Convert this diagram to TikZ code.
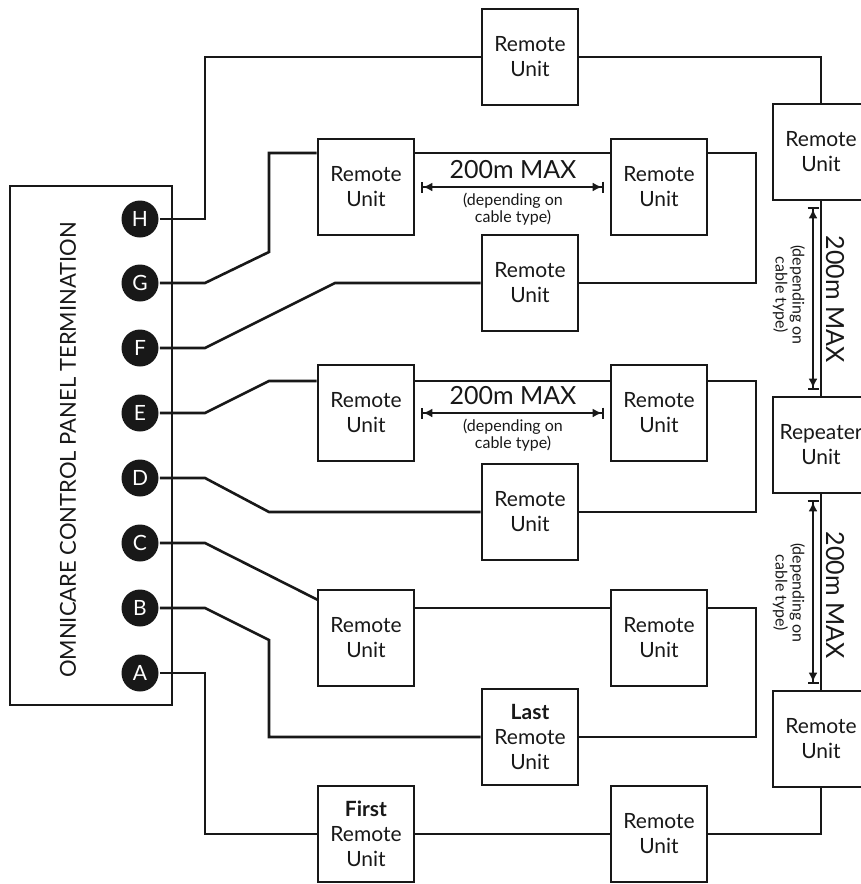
\documentclass[tikz,border=0pt]{standalone}
\usepackage{fontspec}
\setmainfont{Lato}
\usetikzlibrary{arrows.meta}
\definecolor{ink@OC}{RGB}{24,24,24}

\begin{document}
\begin{tikzpicture}[x=1pt, y=-1pt, line width=2.6pt, color=ink@OC]
  \tikzstyle{unit}=[draw, minimum width=96pt, minimum height=96pt, inner sep=0pt,
                    align=center, font=\fontsize{21}{25}\selectfont]
  \tikzstyle{port}=[circle, fill=ink@OC, minimum size=37pt, inner sep=0pt, text=white,
                    font=\fontsize{21}{21}\selectfont]
  \tikzstyle{panel}=[draw, minimum width=162pt, minimum height=519pt, inner sep=0pt]
  \tikzstyle{dim}=[{Bar[width=11pt]Latex[length=9pt,width=9pt]}-{Latex[length=9pt,width=9pt]Bar[width=11pt]},
                   line width=2pt, shorten >=6pt, shorten <=6pt]
  \tikzstyle{maxlbl}=[font=\fontsize{25}{25}\selectfont, inner sep=0pt]
  \tikzstyle{cablelbl}=[font=\fontsize{16}{17}\selectfont, align=center, inner sep=0pt]

  % constants
  \def \BusX {205}
  \def \JogX {269}
  \def \RetX {756}

  \useasboundingbox (0,0) rectangle (861,884);

  \coordinate (bus) at (\BusX,0);
  \coordinate (jog) at (\JogX,0);
  \coordinate (ret) at (\RetX,0);

  % control panel
  \node[panel] (panel) at (91,445.5) {};
  \node[font=\fontsize{22}{22}\selectfont, rotate=90] (ptitle) at (68,450)
    {OMNICARE CONTROL PANEL TERMINATION};

  % Draw the terminals
  \foreach \name/\y in {A/673, B/608, C/543, D/478, E/413, F/348, G/283, H/219}
    \node[port] (c\name) at (140,\y) {\name};

  % Draw the units
  \foreach \pos/\name/\txt in
    {
      {(530,57)/T/{Remote\\Unit}},
      {(366,187)/G1/{Remote\\Unit}},
      {(659,187)/G2/{Remote\\Unit}},
      {(530,283)/GF/{Remote\\Unit}},
      {(366,413)/E1/{Remote\\Unit}},
      {(659,413)/E2/{Remote\\Unit}},
      {(530,512)/DE/{Remote\\Unit}},
      {(366,638)/C1/{Remote\\Unit}},
      {(659,638)/C2/{Remote\\Unit}},
      {(530,737)/L/{\textbf{Last}\\Remote\\Unit}},
      {(366,834)/F1/{\textbf{First}\\Remote\\Unit}},
      {(659,834)/A2/{Remote\\Unit}},
      {(821,152)/R1/{Remote\\Unit}},
      {(821,445)/R2/{Repeater\\Unit}},
      {(821,739)/R3/{Remote\\Unit}}%
    }
    \node[unit] (\name) at \pos {\txt};

  % H loop
  \draw (cH) -- (cH -| bus) |- (T);
  \draw (T) -| (R1);

  % G and F loop
  \draw (cG) -- (cG -| bus) -- ++(64,-31) |- (G1.west |- 0,153) coordinate (g);
  \draw (G1.east |- g) -- (G2.west |- g);
  \draw (G2.east |- g) -| (ret |- GF) -- (GF);
  \draw (cF) -- (cF -| bus) -- ++(130,-65) -- (GF);

  % E and D loop
  \draw (cE) -- (cE -| bus) -- ++(64,-32) coordinate (e) -- (E1.west |- e);
  \draw (E1.east |- e) -- (E2.west |- e);
  \draw (E2.east |- e) -| (ret |- DE) -- (DE);
  \draw (cD) -- (cD -| bus) -- ++(64,34) -- (DE);

  % C and B loop
  \draw (cC) -- (cC -| bus) -- ++(113,57);
  \draw (C1.east |- cB) -- (C2.west |- cB);
  \draw (C2.east |- cB) -| (ret |- L) -- (L);
  \draw (cB) -- (cB -| bus) -- ++(64,32) -- (jog |- L) -- (L);

  % A loop through the repeater
  \draw (cA) -- (cA -| bus) |- (F1);
  \draw (F1) -- (A2);
  \draw (A2) -| (R3);
  \foreach \source/ \dest in {R1/R2, R2/R3}
    \draw (\source) -- (\dest);

  % cable lengths
  \foreach \left/ \right/ \y in {G1/G2/187, E1/E2/413}
  {
    \draw[dim] (\left) -- (\right);
    \node[maxlbl] at (513,\y-17) {200m MAX};
    \node[cablelbl] at (513,\y+22) {(depending on\\cable type)};
  }
  \draw[dim] ([xshift=-8pt]R1.south) -- ([xshift=-8pt]R2.north);
  \draw[dim] ([xshift=-8pt]R2.south) -- ([xshift=-8pt]R3.north);
  \node[maxlbl, rotate=-90] (vmax1) at (835,299) {200m MAX};
  \node[cablelbl, rotate=-90] (vcab1) at (789,295) {(depending on\\cable type)};
  \node[maxlbl, rotate=-90] (vmax2) at (835,595) {200m MAX};
  \node[cablelbl, rotate=-90] (vcab2) at (789,593) {(depending on\\cable type)};
\end{tikzpicture}
\end{document}
